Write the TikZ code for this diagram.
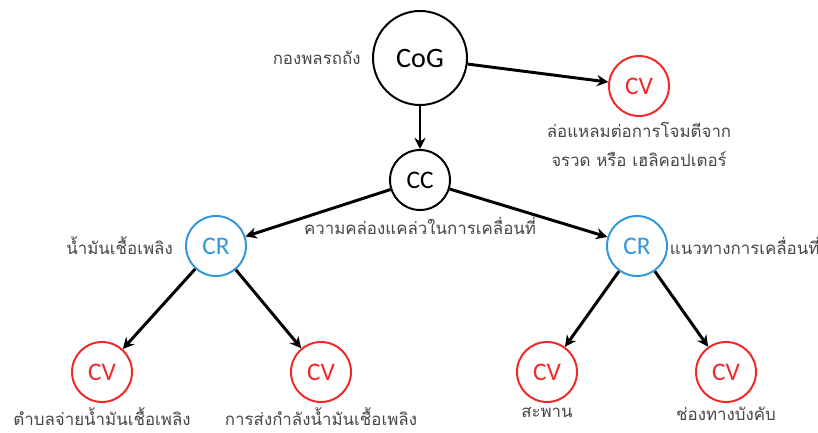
\documentclass[tikz,border=0pt]{standalone}
\usepackage{fontspec}
\setmainfont{Carlito}
\newfontfamily\thaifont[Script=Thai]{Loma}
\usetikzlibrary{positioning,arrows.meta}
\definecolor{cvred}{RGB}{240,40,40}
\definecolor{crblue}{RGB}{50,150,220}
\definecolor{lblgray}{RGB}{70,70,70}
\begin{document}
\begin{tikzpicture}
    \tikzstyle{top} = [circle, minimum size=2.35cm, inner sep=0pt, text centered, draw=black, line width=1.4pt, font=\fontsize{20}{22}\selectfont]
    \tikzstyle{cc} = [circle, minimum size=1.5cm, inner sep=0pt, text centered, draw=black, line width=1.4pt, font=\fontsize{18}{20}\selectfont]
    \tikzstyle{cr} = [cc, draw=crblue, text=crblue]
    \tikzstyle{cv} = [cc, draw=cvred, text=cvred]
    \tikzstyle{lbl} = [inner sep=0pt, text=lblgray, font=\thaifont\fontsize{12}{21}\selectfont]
    \tikzstyle{arrow} = [line width=2.1pt,->,>={Stealth[length=8pt,width=8pt]}]
    \useasboundingbox (0,0) rectangle (20.45,10.8);
    \node (cog) [top] at (10.5, 9.35) {CoG};
    \node (cv0) [cv] at (15.975, 8.65) {CV};
    \node (cc) [cc] at (10.5, 6.3) {CC};
    \node (cr1) [cr] at (5.4, 4.65) {CR};
    \node (cr2) [cr] at (15.925, 4.65) {CR};
    \node (cv1) [cv] at (2.55, 1.5) {CV};
    \node (cv2) [cv] at (8.025, 1.5) {CV};
    \node (cv3) [cv] at (13.675, 1.5) {CV};
    \node (cv4) [cv] at (18.15, 1.5) {CV};
    % labels
    \node (lcog) [lbl, left=0.28cm of cog] {กองพลรถถัง};
    \node (lcv0) [lbl, align=center, below=0.12cm of cv0] {ล่อแหลมต่อการโจมตีจาก\\จรวด หรือ เฮลิคอปเตอร์};
    \node (lcc) [lbl, below=0.15cm of cc] {ความคล่องแคล่วในการเคลื่อนที่};
    \node (lcr1) [lbl, left=0.3cm of cr1] {น้ำมันเชื้อเพลิง};
    \node (lcr2) [lbl, right=0.04cm of cr2] {แนวทางการเคลื่อนที่};
    \node (lcv1) [lbl, below=0.1cm of cv1] {ตำบลจ่ายน้ำมันเชื้อเพลิง};
    \node (lcv2) [lbl, below=0.1cm of cv2] {การส่งกำลังน้ำมันเชื้อเพลิง};
    \node (lcv3) [lbl, below=0.1cm of cv3] {สะพาน};
    \node (lcv4) [lbl, below=0.1cm of cv4] {ช่องทางบังคับ};
    \draw[arrow] (cog) to (cv0);
    \draw[arrow] (cog) to (cc);
    \draw[arrow] (cc) to (cr1);
    \draw[arrow] (cc) to (cr2);
    \draw[arrow] (cr1) to (cv1);
    \draw[arrow] (cr1) to (cv2);
    \draw[arrow] (cr2) to (cv3);
    \draw[arrow] (cr2) to (cv4);
\end{tikzpicture}
\end{document}
